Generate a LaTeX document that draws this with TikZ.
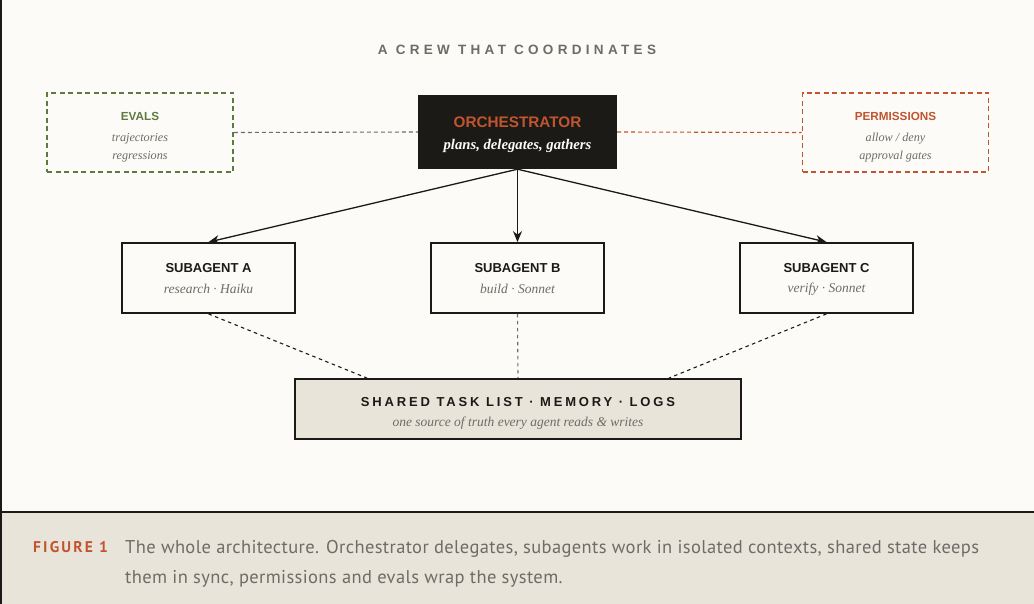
\documentclass[tikz,border=0pt]{standalone}
\usepackage{fontspec}
\setmainfont{Liberation Serif}
\newfontfamily\hd{Liberation Sans}
\newfontfamily\hdsp[LetterSpace=22]{Liberation Sans}
\newfontfamily\hdtitle[LetterSpace=32]{Liberation Sans}
\newfontfamily\captf[LetterSpace=2]{PT Sans}
\newfontfamily\captsp[LetterSpace=14]{PT Sans}
\usetikzlibrary{arrows.meta,calc}
\definecolor{bg}{HTML}{FCFBF7}
\definecolor{beige}{HTML}{E8E4DA}
\definecolor{ink}{HTML}{1C1A17}
\definecolor{rust}{HTML}{C0552F}
\definecolor{moss}{HTML}{5D7A40}
\definecolor{mute}{HTML}{6E6C66}
\tikzset{
  box/.style={draw=ink, line width=1.8pt, fill=bg, minimum width=173pt, minimum height=70pt, inner sep=0pt},
  dbox/.style={line width=1.8pt, dash pattern=on 5pt off 3.5pt, fill=bg, minimum width=186pt, minimum height=79pt, inner sep=0pt},
  ttl/.style={font=\hd\bfseries\fontsize{13}{15}\selectfont, text=ink, inner sep=0pt},
  sttl/.style={font=\hd\bfseries\fontsize{11.7}{14}\selectfont, inner sep=0pt},
  sub/.style={font=\itshape\fontsize{13.5}{15}\selectfont, text=mute, inner sep=0pt},
  ssub/.style={font=\itshape\fontsize{12.2}{14}\selectfont, text=mute, inner sep=0pt},
  arr/.style={draw=ink, line width=1.3pt, -{Stealth[length=11pt,width=9pt]}},
  dot/.style={draw=ink, line width=1.1pt, dash pattern=on 3.5pt off 3.5pt}
}
\begin{document}
\begin{tikzpicture}[x=1pt,y=-1pt]
\useasboundingbox (0,0) rectangle (1034,604);
\fill[bg] (0,0) rectangle (1034,512);
\fill[beige] (0,512) rectangle (1034,604);
\draw[ink, line width=1.5pt] (1,0) -- (1,604);
\draw[ink, line width=1.5pt] (0,512) -- (1034,512);

\node[font=\hdtitle\bfseries\fontsize{13.5}{16}\selectfont, text=mute, inner sep=0pt] (title) at (517,50) {A CREW THAT COORDINATES};

% side boxes
\node[dbox, draw=moss] (evals) at (140,132.5) {};
\node[sttl, text=moss] (evt) at (140,116) {EVALS};
\node[ssub] (ev1) at (140,139) {trajectories};
\node[ssub] (ev2) at (140,157) {regressions};

\node[dbox, draw=rust] (perm) at (895.5,132.5) {};
\node[sttl, text=rust] (pmt) at (895.5,116) {PERMISSIONS};
\node[ssub] (pm1) at (895.5,139) {allow / deny};
\node[ssub] (pm2) at (895.5,157) {approval gates};

% orchestrator
\node[fill=ink, minimum width=199pt, minimum height=74pt, inner sep=0pt] (orch) at (517.5,132) {};
\node[font=\hd\bfseries\fontsize{15.3}{18}\selectfont, text=rust, inner sep=0pt] (ort) at (517.5,122) {ORCHESTRATOR};
\node[font=\bfseries\itshape\fontsize{14.7}{16}\selectfont, text=bg, inner sep=0pt] (ors) at (517.5,146) {plans, delegates, gathers};

\draw[mute, line width=1.1pt, dash pattern=on 4pt off 3pt] (evals.east) -- (orch.west);
\draw[rust, line width=1.1pt, dash pattern=on 4pt off 3pt] (orch.east) -- (perm.west);

% subagents
\node[box] (A) at (208.5,278) {};
\node[ttl] (At) at (208.5,268) {SUBAGENT A};
\node[sub] (As) at (208.5,289) {research · Haiku};
\node[box] (B) at (517.5,278) {};
\node[ttl] (Bt) at (517.5,268) {SUBAGENT B};
\node[sub] (Bs) at (517.5,289) {build · Sonnet};
\node[box] (C) at (826.5,278) {};
\node[ttl] (Ct) at (826.5,268) {SUBAGENT C};
\node[sub] (Cs) at (826.5,289) {verify · Sonnet};

\draw[arr] (orch.south) -- (A.north);
\draw[arr] (orch.south) -- (B.north);
\draw[arr] (orch.south) -- (C.north);

% shared
\node[draw=ink, line width=1.8pt, fill=beige, minimum width=446pt, minimum height=60pt, inner sep=0pt] (sh) at (518,409) {};
\node[font=\hdsp\bfseries\fontsize{13}{15}\selectfont, text=ink, inner sep=0pt] (sht) at (518,402) {SHARED TASK LIST · MEMORY · LOGS};
\node[sub] (shs) at (518,423) {one source of truth every agent reads \& writes};

\coordinate (shA) at ($(sh.north west)+(73,0)$);
\coordinate (shC) at ($(sh.north east)+(-73,0)$);
\draw[dot] (A.south) -- (shA);
\draw[dot, draw=mute] (B.south) -- (sh.north);
\draw[dot] (C.south) -- (shC);

% caption
\node[font=\captsp\bfseries\fontsize{15.5}{17}\selectfont, text=rust, anchor=base west, inner sep=0pt] (fig) at (33,552.5) {FIGURE 1};
\node[font=\captf\fontsize{18.5}{22}\selectfont, text=mute, anchor=base west, inner sep=0pt] (capA) at (125,553) {The whole architecture. Orchestrator delegates, subagents work in isolated contexts, shared state keeps};
\node[font=\captf\fontsize{18.5}{22}\selectfont, text=mute, anchor=base west, inner sep=0pt] (capB) at (125,583) {them in sync, permissions and evals wrap the system.};
\end{tikzpicture}
\end{document}
